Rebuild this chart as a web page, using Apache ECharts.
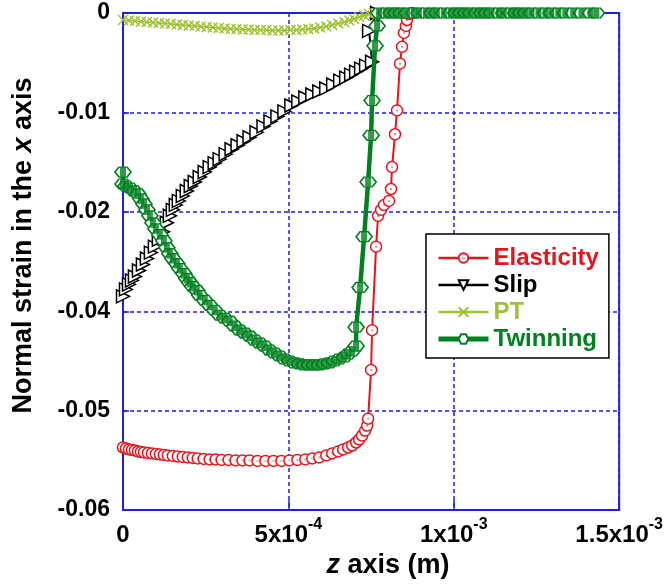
<!DOCTYPE html>
<html>
<head>
<meta charset="utf-8">
<script src="https://cdn.jsdelivr.net/npm/echarts@6/dist/echarts.min.js"></script>
<style>
  html, body { margin: 0; padding: 0; background: #fff; }
  #chart { width: 666px; height: 584px; }
</style>
</head>
<body>
<div id="chart"></div>
<script>
// z position along the specimen (m) and normal strain in x for each mechanism
const zElasticity = [0, 9.0e-6, 1.81e-5, 2.71e-5, 3.61e-5, 4.52e-5, 5.42e-5, 6.33e-5, 7.53e-5, 8.73e-5,
  9.94e-5, 1.114e-4, 1.235e-4, 1.355e-4, 1.506e-4, 1.657e-4, 1.807e-4, 1.958e-4, 2.108e-4, 2.259e-4,
  2.440e-4, 2.620e-4, 2.801e-4, 2.982e-4, 3.193e-4, 3.404e-4, 3.614e-4, 3.825e-4, 4.066e-4, 4.307e-4,
  4.548e-4, 4.789e-4, 5.030e-4, 5.271e-4, 5.512e-4, 5.723e-4, 5.934e-4, 6.145e-4, 6.325e-4, 6.506e-4,
  6.657e-4, 6.807e-4, 6.928e-4, 7.048e-4, 7.139e-4, 7.229e-4, 7.319e-4, 7.380e-4, 7.410e-4,
  7.500e-4, 7.530e-4, 7.651e-4, 7.711e-4, 7.801e-4, 7.892e-4, 8.042e-4, 8.102e-4, 8.133e-4, 8.223e-4,
  8.283e-4, 8.373e-4, 8.434e-4, 8.494e-4, 8.554e-4, 8.584e-4, 8.645e-4, 8.735e-4];
const strainElasticity = [-0.05244, -0.05256, -0.05268, -0.05274, -0.0528, -0.05292, -0.05298, -0.05304, -0.0531, -0.05316,
  -0.05322, -0.05328, -0.05334, -0.0534, -0.05346, -0.05352, -0.05358, -0.05364, -0.0537, -0.05376,
  -0.05382, -0.05388, -0.05388, -0.05394, -0.05394, -0.054, -0.054, -0.054, -0.05406, -0.05406,
  -0.05406, -0.05406, -0.054, -0.05394, -0.05388, -0.05376, -0.05364, -0.0534, -0.05316, -0.05292,
  -0.05268, -0.05244, -0.0522, -0.05184, -0.05148, -0.051, -0.0504, -0.0498, -0.04896,
  -0.04308, -0.03828, -0.0282, -0.02448, -0.02376, -0.02316, -0.02268, -0.02124, -0.0186, -0.01464,
  -0.01176, -0.00612, -0.00408, -0.0024, -0.00156, -0.00084, -0.00012, 0];

const zSlip = [0, 9.0e-6, 1.81e-5, 2.71e-5, 3.61e-5, 4.82e-5, 6.02e-5, 7.23e-5, 8.43e-5, 9.64e-5,
  1.084e-4, 1.205e-4, 1.325e-4, 1.416e-4, 1.506e-4, 1.596e-4, 1.687e-4, 1.807e-4, 1.928e-4, 2.048e-4,
  2.169e-4, 2.319e-4, 2.470e-4, 2.620e-4, 2.771e-4, 2.922e-4, 3.102e-4, 3.283e-4, 3.464e-4, 3.645e-4,
  3.825e-4, 4.036e-4, 4.247e-4, 4.458e-4, 4.669e-4, 4.880e-4, 5.090e-4, 5.301e-4, 5.512e-4, 5.723e-4,
  5.934e-4, 6.145e-4, 6.355e-4, 6.566e-4, 6.747e-4, 6.898e-4, 7.048e-4, 7.199e-4, 7.349e-4, 7.530e-4,
  7.440e-4, 7.681e-4];
const strainSlip = [-0.0342, -0.03336, -0.03276, -0.03228, -0.0318, -0.03108, -0.03036, -0.02964, -0.02892, -0.0282,
  -0.02736, -0.0264, -0.02532, -0.02448, -0.02376, -0.02316, -0.02268, -0.02208, -0.02148, -0.02088,
  -0.0204, -0.0198, -0.0192, -0.0186, -0.01812, -0.01764, -0.01704, -0.01644, -0.01596, -0.01548,
  -0.015, -0.0144, -0.01368, -0.01308, -0.01248, -0.01188, -0.01116, -0.01068, -0.0102, -0.00984,
  -0.00948, -0.00912, -0.00864, -0.00816, -0.0078, -0.00744, -0.00708, -0.00672, -0.00636, -0.00588,
  -0.00216, 0];

const zPT = [0, 1.81e-5, 3.61e-5, 5.42e-5, 7.23e-5, 9.04e-5, 1.084e-4, 1.265e-4, 1.446e-4, 1.627e-4,
  1.807e-4, 1.988e-4, 2.169e-4, 2.349e-4, 2.530e-4, 2.711e-4, 2.892e-4, 3.072e-4, 3.253e-4, 3.434e-4,
  3.614e-4, 3.795e-4, 3.976e-4, 4.157e-4, 4.337e-4, 4.518e-4, 4.699e-4, 4.880e-4, 5.060e-4, 5.241e-4,
  5.422e-4, 5.602e-4, 5.783e-4, 5.964e-4, 6.145e-4, 6.325e-4, 6.506e-4, 6.687e-4, 6.837e-4, 6.988e-4,
  7.139e-4, 7.289e-4, 7.440e-4, 7.590e-4];
const strainPT = [-0.00084, -0.0009, -0.00096, -0.00102, -0.00108, -0.00114, -0.0012, -0.00126, -0.00132, -0.00138,
  -0.00144, -0.0015, -0.00156, -0.00162, -0.00168, -0.00174, -0.0018, -0.00186, -0.00192, -0.00192,
  -0.00198, -0.00198, -0.00204, -0.00204, -0.00204, -0.0021, -0.0021, -0.0021, -0.00204, -0.00204,
  -0.00198, -0.00192, -0.00186, -0.00174, -0.00162, -0.00144, -0.00126, -0.00108, -0.0009, -0.00072,
  -0.00048, -0.0003, -0.00012, 0];

const zTwinning = [0, 0, 9.0e-6, 2.11e-5, 3.31e-5, 4.52e-5, 5.42e-5, 6.33e-5, 7.23e-5, 8.13e-5,
  9.04e-5, 9.94e-5, 1.114e-4, 1.235e-4, 1.325e-4, 1.416e-4, 1.506e-4, 1.627e-4, 1.717e-4, 1.837e-4,
  1.928e-4, 2.018e-4, 2.108e-4, 2.229e-4, 2.319e-4, 2.470e-4, 2.620e-4, 2.771e-4, 2.922e-4, 3.072e-4,
  3.223e-4, 3.373e-4, 3.524e-4, 3.675e-4, 3.825e-4, 3.976e-4, 4.127e-4, 4.277e-4, 4.428e-4, 4.578e-4,
  4.729e-4, 4.880e-4, 5.030e-4, 5.181e-4, 5.331e-4, 5.482e-4, 5.633e-4, 5.783e-4, 5.934e-4, 6.084e-4,
  6.235e-4, 6.386e-4, 6.536e-4, 6.687e-4, 6.807e-4, 6.928e-4, 7.048e-4, 7.048e-4, 7.169e-4, 7.289e-4,
  7.410e-4, 7.500e-4, 7.530e-4, 7.620e-4, 7.681e-4, 7.741e-4,
  7.952e-4, 8.102e-4, 8.253e-4, 8.404e-4, 8.584e-4, 8.795e-4, 8.946e-4, 9.157e-4, 9.337e-4, 9.488e-4,
  9.699e-4, 9.910e-4, 1.006e-3, 1.021e-3, 1.036e-3, 1.051e-3, 1.069e-3, 1.084e-3, 1.099e-3, 1.114e-3,
  1.136e-3, 1.151e-3, 1.172e-3, 1.187e-3, 1.202e-3, 1.217e-3, 1.235e-3, 1.256e-3, 1.277e-3, 1.295e-3,
  1.316e-3, 1.337e-3, 1.361e-3, 1.386e-3, 1.413e-3, 1.431e-3];
const strainTwinning = [-0.0192, -0.02064, -0.02088, -0.02112, -0.02148, -0.02184, -0.02244, -0.02304, -0.02376, -0.02448,
  -0.02532, -0.02604, -0.02676, -0.02748, -0.02832, -0.02904, -0.02964, -0.03024, -0.03084, -0.03144,
  -0.03204, -0.03252, -0.033, -0.03348, -0.03408, -0.03468, -0.03528, -0.03588, -0.03648, -0.03684,
  -0.0372, -0.0378, -0.03828, -0.03864, -0.039, -0.03948, -0.03984, -0.0402, -0.04068, -0.04104,
  -0.0414, -0.04176, -0.042, -0.04224, -0.04236, -0.04248, -0.04248, -0.04248, -0.04248, -0.04236,
  -0.04224, -0.042, -0.04176, -0.04152, -0.04116, -0.0408, -0.0402, -0.03792, -0.03312, -0.027,
  -0.0204, -0.01476, -0.01056, -0.00396, -0.00156, 0,
  0, 0, 0, 0, 0, 0, 0, 0, 0, 0,
  0, 0, 0, 0, 0, 0, 0, 0, 0, 0,
  0, 0, 0, 0, 0, 0, 0, 0, 0, 0,
  0, 0, 0, 0, 0, 0];

// axis ranges and ticks
const zMin = 0, zMax = 1.5e-3, zStep = 5e-4;
const strainMin = -0.06, strainMax = 0, strainStep = 0.012;

const seriesNames = ['Elasticity', 'Slip', 'PT', 'Twinning'];
const seriesColors = ['#e8141c', '#000000', '#9fc134', '#00801e'];
const lineWidths = [2, 2, 1.5, 4.5];

const FONT = "'Liberation Sans', Arial, sans-serif";
const BLUE = '#1f1fe6';

const pairs = (xs, ys) => xs.map((x, i) => [x, ys[i]]);

// scientific tick label such as 5x10^-4, written with a raised exponent
function sciLabel(v) {
  if (Math.abs(v) < 1e-12) return '{b|0}';
  const e = Math.floor(Math.log10(v) + 1e-9);
  const m = Math.round(v / Math.pow(10, e) * 10) / 10;
  return '{b|' + m + 'x10}{sup|' + e + '}';
}

const ringDot = 'path://M0,10A10,10 0 1,0 20,10A10,10 0 1,0 0,10Z M9.6,10A0.4,0.4 0 1,0 10.4,10A0.4,0.4 0 1,0 9.6,10Z';
const hexagon = 'path://M0,5L4,0L12,0L16,5L12,10L4,10Z';
const crossMark = 'path://M0,0L10,10M10,0L0,10';

const chart = echarts.init(document.getElementById('chart'), null, { renderer: 'canvas' });

chart.setOption({
  animation: false,
  backgroundColor: '#ffffff',
  grid: {
    left: 123, right: 45, top: 13, bottom: 71,
    show: true, borderColor: BLUE, borderWidth: 2, backgroundColor: 'transparent'
  },
  legend: {
    orient: 'vertical',
    left: 426, top: 234,
    padding: [12, 10, 7, 10],
    itemWidth: 50, itemHeight: 12, itemGap: 3,
    backgroundColor: '#ffffff',
    borderColor: '#000000', borderWidth: 1.5, borderRadius: 0,
    textStyle: { fontFamily: FONT, fontSize: 24, fontWeight: 'bold' },
    data: seriesNames.map((n, i) => ({
      name: n,
      textStyle: { color: seriesColors[i] },
      lineStyle: { color: seriesColors[i], width: i === 3 ? 5 : 2.5 },
      symbolRotate: n === 'Slip' ? 180 : 0
    }))
  },
  xAxis: {
    type: 'value',
    min: zMin, max: zMax, interval: zStep,
    name: '{i|z} axis (m)',
    nameLocation: 'middle',
    nameGap: 40,
    nameTextStyle: {
      fontFamily: FONT, fontSize: 27, fontWeight: 'bold', color: '#000',
      padding: [0, 0, 0, 34],
      rich: { i: { fontFamily: FONT, fontSize: 27, fontWeight: 'bold', fontStyle: 'italic', color: '#000' } }
    },
    axisLine: { show: true, onZero: false, lineStyle: { color: BLUE, width: 2 } },
    axisTick: { show: true, inside: true, length: 10, lineStyle: { color: BLUE, width: 1.5 } },
    splitLine: { show: true, lineStyle: { color: BLUE, width: 1.5, type: [4, 3] } },
    axisLabel: {
      margin: 6,
      formatter: sciLabel,
      rich: {
        b: { fontFamily: FONT, fontSize: 24, fontWeight: 'bold', color: '#000', lineHeight: 31, verticalAlign: 'bottom' },
        sup: { fontFamily: FONT, fontSize: 16, fontWeight: 'bold', color: '#000', lineHeight: 31, verticalAlign: 'top' }
      }
    }
  },
  yAxis: {
    type: 'value',
    min: strainMin, max: strainMax, interval: strainStep,
    name: 'Normal strain in the {i|x} axis',
    nameLocation: 'middle',
    nameGap: 86,
    nameRotate: 90,
    nameTextStyle: {
      fontFamily: FONT, fontSize: 27, fontWeight: 'bold', color: '#000',
      padding: [0, 0, 0, 32],
      rich: { i: { fontFamily: FONT, fontSize: 27, fontWeight: 'bold', fontStyle: 'italic', color: '#000' } }
    },
    axisLine: { show: true, onZero: false, lineStyle: { color: BLUE, width: 2 } },
    axisTick: { show: true, inside: true, length: 6, lineStyle: { color: BLUE, width: 1.5 } },
    splitLine: { show: true, lineStyle: { color: BLUE, width: 1.5, type: [4, 3] } },
    axisLabel: {
      margin: 13,
      fontFamily: FONT, fontSize: 23, fontWeight: 'bold', color: '#000',
      formatter: v => (Math.abs(v) < 1e-12 ? '0' : v.toFixed(2))
    }
  },
  series: [
    {
      name: 'Elasticity', type: 'line',
      data: pairs(zElasticity, strainElasticity),
      symbol: ringDot, symbolSize: 11,
      lineStyle: { color: seriesColors[0], width: lineWidths[0] },
      itemStyle: { color: '#ffffff', borderColor: seriesColors[0], borderWidth: 1.5 },
      z: 2
    },
    {
      name: 'Slip', type: 'line',
      data: pairs(zSlip, strainSlip),
      symbol: 'triangle', symbolSize: 13, symbolRotate: -90,
      lineStyle: { color: seriesColors[1], width: lineWidths[1] },
      itemStyle: { color: '#ffffff', borderColor: seriesColors[1], borderWidth: 1.5 },
      z: 3
    },
    {
      name: 'PT', type: 'line',
      data: pairs(zPT, strainPT),
      symbol: crossMark, symbolSize: 10,
      lineStyle: { color: seriesColors[2], width: lineWidths[2] },
      itemStyle: { color: seriesColors[2], borderColor: seriesColors[2], borderWidth: 1.4 },
      z: 4
    },
    {
      name: 'Twinning', type: 'line',
      data: pairs(zTwinning, strainTwinning),
      symbol: hexagon, symbolSize: [16, 10],
      lineStyle: { color: seriesColors[3], width: lineWidths[3] },
      itemStyle: { color: '#ffffff', borderColor: seriesColors[3], borderWidth: 1.5 },
      z: 5
    },
    {
      // solid core of each twinning marker
      name: 'Twinning core', type: 'scatter',
      data: pairs(zTwinning, strainTwinning),
      symbol: 'rect', symbolSize: [6, 10],
      itemStyle: { color: seriesColors[3] },
      silent: true,
      z: 6
    }
  ]
});
</script>
</body>
</html>
